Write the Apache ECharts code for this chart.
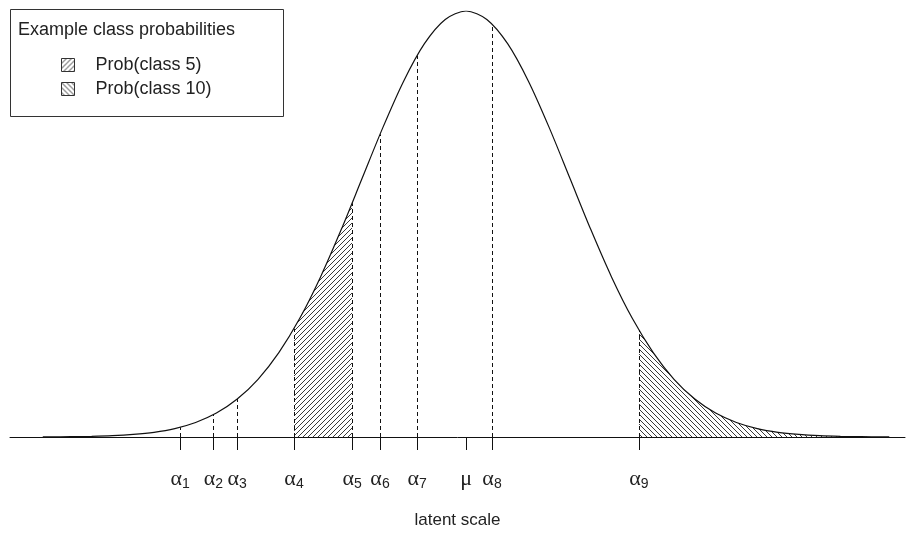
<!DOCTYPE html>
<html lang="en" style="height: 100%">
<head>
    <meta charset="UTF-8">
    <title>Latent scale class probabilities</title>
    <script src="https://cdn.jsdelivr.net/npm/echarts@6/dist/echarts.min.js"></script>
</head>
<body style="height: 100%; margin: 0; background: #fff">
<div id="container" style="width: 912px; height: 541px"></div>

<script type="text/javascript">
    // density curve (latent scale, mu = 0)
    var curveX = [-4.07, -4, -3.8, -3.6, -3.4, -3.2, -3, -2.8, -2.6, -2.4, -2.2, -2, -1.8, -1.6, -1.4, -1.2, -1, -0.8, -0.6, -0.4, -0.2, 0,
        0.2, 0.4, 0.6, 0.8, 1, 1.2, 1.4, 1.6, 1.8, 2, 2.2, 2.4, 2.6, 2.8, 3, 3.2, 3.4, 3.6, 3.8, 4, 4.07];
    var curveY = [0.0001, 0.0001, 0.0003, 0.0006, 0.0012, 0.0024, 0.0044, 0.0079, 0.0136, 0.0224, 0.0355, 0.0540, 0.0790, 0.1109, 0.1497, 0.1942, 0.2420, 0.2897, 0.3332, 0.3683, 0.3910, 0.3989,
        0.3910, 0.3683, 0.3332, 0.2897, 0.2420, 0.1942, 0.1497, 0.1109, 0.0790, 0.0540, 0.0355, 0.0224, 0.0136, 0.0079, 0.0044, 0.0024, 0.0012, 0.0006, 0.0003, 0.0001, 0.0001];

    // cutpoints and the curve height above each
    var alphaValues = [-2.75, -2.43, -2.20, -1.654, -1.096, -0.827, -0.471, 0.25, 1.663];
    var alphaHeights = [0.0091, 0.0208, 0.0355, 0.1014, 0.2189, 0.2834, 0.3572, 0.3867, 0.1001];
    var muValue = 0;

    // shaded classes
    var class5X = [-1.654, -1.6, -1.4, -1.2, -1.096];
    var class5Y = [0.1014, 0.1109, 0.1497, 0.1942, 0.2189];
    var class10X = [1.663, 1.8, 2, 2.2, 2.4, 2.6, 2.8, 3, 3.2, 3.4, 3.6, 3.8, 4, 4.07];
    var class10Y = [0.1001, 0.0790, 0.0540, 0.0355, 0.0224, 0.0136, 0.0079, 0.0044, 0.0024, 0.0012, 0.0006, 0.0003, 0.0001, 0.0001];

    var legendNames = ['Prob(class 5)', 'Prob(class 10)'];

    function zip(xs, ys) {
        return xs.map(function (x, i) { return [x, ys[i]]; });
    }

    // hatch pattern: dir 1 = "/", dir -1 = "\"
    function makeHatch(dir, size) {
        var c = document.createElement('canvas');
        c.width = size;
        c.height = size;
        var ctx = c.getContext('2d');
        ctx.strokeStyle = '#222';
        ctx.lineWidth = 0.9;
        ctx.beginPath();
        if (dir > 0) {
            ctx.moveTo(-1, size + 1); ctx.lineTo(size + 1, -1);
            ctx.moveTo(-1, 1); ctx.lineTo(1, -1);
            ctx.moveTo(size - 1, size + 1); ctx.lineTo(size + 1, size - 1);
        } else {
            ctx.moveTo(-1, -1); ctx.lineTo(size + 1, size + 1);
            ctx.moveTo(-1, size - 1); ctx.lineTo(1, size + 1);
            ctx.moveTo(size - 1, -1); ctx.lineTo(size + 1, 1);
        }
        ctx.stroke();
        return {image: c, repeat: 'repeat'};
    }

    var hatch5 = makeHatch(1, 5);
    var hatch10 = makeHatch(-1, 5);

    var tickValues = alphaValues.concat([muValue]);

    var dashData = alphaValues.map(function (a, i) {
        return [{coord: [a, 0]}, {coord: [a, alphaHeights[i]]}];
    });

    var dom = document.getElementById("container");
    var myChart = echarts.init(dom, null, {renderer: 'canvas'});

    var option = {
        animation: false,
        title: {
            text: 'Example class probabilities',
            left: 18,
            top: 21,
            padding: 0,
            textStyle: {fontSize: 18, fontWeight: 'normal', color: '#222', fontFamily: 'Liberation Sans'}
        },
        legend: {
            orient: 'vertical',
            left: 61,
            top: 56,
            padding: 0,
            itemWidth: 13,
            itemHeight: 13,
            itemGap: 6,
            icon: 'rect',
            textStyle: {fontSize: 18, color: '#222', fontFamily: 'Liberation Sans', padding: [0, 0, 0, 16]},
            data: [
                {name: legendNames[0], itemStyle: {color: hatch5, borderColor: '#333', borderWidth: 1}},
                {name: legendNames[1], itemStyle: {color: hatch10, borderColor: '#333', borderWidth: 1}}
            ]
        },
        graphic: [{
            type: 'rect',
            z: -1,
            shape: {x: 10.5, y: 9.5, width: 273, height: 107},
            style: {fill: '#fff', stroke: '#333', lineWidth: 1}
        }],
        grid: {left: 10, right: 7, top: 11, bottom: 104},
        xAxis: {
            type: 'value',
            min: -4.385,
            max: 4.221,
            splitLine: {show: false},
            axisLine: {lineStyle: {color: '#111', width: 1}},
            axisTick: {show: true, length: 13, customValues: tickValues, lineStyle: {color: '#111'}},
            axisLabel: {
                customValues: tickValues,
                margin: 31,
                color: '#222',
                formatter: function (v) {
                    var i = alphaValues.indexOf(v);
                    if (i < 0) return '{a|μ}';
                    return '{a|α}{s|' + (i + 1) + '}';
                },
                rich: {
                    a: {fontSize: 22, fontFamily: 'Liberation Serif', color: '#222', lineHeight: 22},
                    s: {fontSize: 14, fontFamily: 'Liberation Sans', color: '#222', lineHeight: 22, padding: [10, 0, 0, 0]}
                }
            },
            name: 'latent scale',
            nameLocation: 'middle',
            nameGap: 75,
            nameTextStyle: {fontSize: 17, color: '#222', fontFamily: 'Liberation Sans'}
        },
        yAxis: {
            type: 'value',
            min: 0,
            max: 0.3989,
            show: false
        },
        series: [{
            name: legendNames[0],
            type: 'line',
            data: zip(class5X, class5Y),
            smooth: 0.3,
            symbol: 'none',
            lineStyle: {width: 0},
            areaStyle: {color: hatch5, opacity: 1},
            z: 1
        }, {
            name: legendNames[1],
            type: 'line',
            data: zip(class10X, class10Y),
            smooth: 0.3,
            symbol: 'none',
            lineStyle: {width: 0},
            areaStyle: {color: hatch10, opacity: 1},
            z: 1
        }, {
            name: 'density',
            type: 'line',
            data: zip(curveX, curveY),
            smooth: 0.3,
            symbol: 'none',
            lineStyle: {color: '#111', width: 1.2},
            z: 3,
            markLine: {
                silent: true,
                symbol: 'none',
                label: {show: false},
                lineStyle: {color: '#111', type: [4, 3], width: 1},
                data: dashData
            }
        }]
    };

    myChart.setOption(option);
</script>
</body>
</html>
